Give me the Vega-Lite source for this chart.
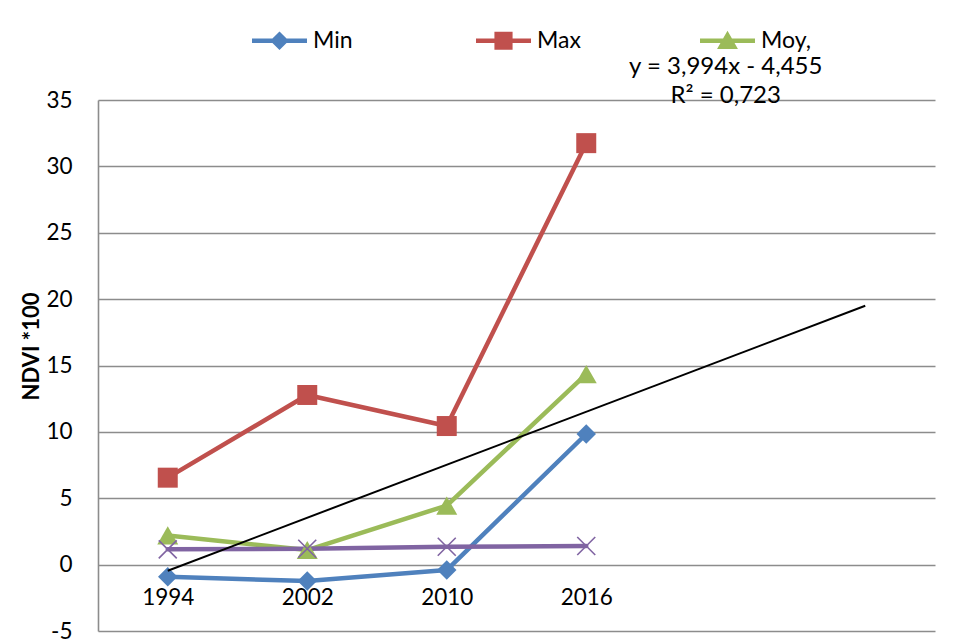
{
  "$schema": "https://vega.github.io/schema/vega-lite/v6.json",
  "width": 837,
  "height": 531,
  "autosize": {"type": "none"},
  "padding": {"left": 98, "top": 100, "right": 33, "bottom": 11},
  "background": "white",
  "config": {"view": {"stroke": null}, "font": "Lato"},
  "datasets": {
    "ndvi": [
      {"year": "1994", "series": "Min", "v": -0.91},
      {"year": "2002", "series": "Min", "v": -1.24},
      {"year": "2010", "series": "Min", "v": -0.41},
      {"year": "2016", "series": "Min", "v": 9.84},
      {"year": "1994", "series": "Max", "v": 6.55},
      {"year": "2002", "series": "Max", "v": 12.78},
      {"year": "2010", "series": "Max", "v": 10.44},
      {"year": "2016", "series": "Max", "v": 31.75},
      {"year": "1994", "series": "Moy", "v": 2.2},
      {"year": "2002", "series": "Moy", "v": 1.1},
      {"year": "2010", "series": "Moy", "v": 4.45},
      {"year": "2016", "series": "Moy", "v": 14.35},
      {"year": "1994", "series": "Série4", "v": 1.15},
      {"year": "2002", "series": "Série4", "v": 1.2},
      {"year": "2010", "series": "Série4", "v": 1.35},
      {"year": "2016", "series": "Série4", "v": 1.4}
    ],
    "trend": [
      {"year": "1994", "v": -0.46},
      {"year": "  ", "v": 19.5}
    ],
    "eqn": [
      {"year": " ", "label": "y = 3,994x - 4,455\nR² = 0,723"}
    ]
  },
  "data": {"name": "ndvi"},
  "layer": [
    {
      "mark": {"type": "line", "strokeWidth": 4.5, "strokeJoin": "round", "strokeCap": "round"},
      "encoding": {
        "x": {
          "field": "year",
          "type": "nominal",
          "sort": null,
          "scale": {"type": "point", "domain": ["1994", "2002", "2010", "2016", " ", "  "], "padding": 0.5},
          "axis": {
            "title": null,
            "orient": "bottom",
            "offset": -66.4,
            "domain": false,
            "ticks": false,
            "grid": false,
            "labelAngle": 0,
            "labelPadding": 22,
            "labelFont": "Lato",
            "labelFontSize": 22.5,
            "labelColor": "black"
          }
        },
        "y": {
          "field": "v",
          "type": "quantitative",
          "scale": {"domain": [-5, 35], "nice": false, "zero": false},
          "axis": {
            "title": "NDVI *100",
            "values": [-5, 0, 5, 10, 15, 20, 25, 30, 35],
            "labelExpr": "toString(datum.value)",
            "grid": true,
            "gridColor": "#8c8c8c",
            "gridWidth": 1.6,
            "domain": true,
            "domainColor": "#8c8c8c",
            "domainWidth": 1.6,
            "ticks": false,
            "labelPadding": 26,
            "labelFont": "Lato",
            "labelFontSize": 22.5,
            "labelColor": "black",
            "titleFont": "Lato",
            "titleFontSize": 22,
            "titleFontWeight": "bold",
            "titleColor": "black",
            "titleAngle": -90,
            "titleAlign": "center",
            "titleBaseline": "middle",
            "titleX": -67,
            "titleY": 246
          }
        },
        "stroke": {
          "field": "series",
          "type": "nominal",
          "scale": {"domain": ["Min", "Max", "Moy", "Série4"], "range": ["#4F81BD", "#C0504D", "#9BBB59", "#8064A2"]},
          "legend": null
        }
      }
    },
    {
      "transform": [{"filter": {"field": "series", "equal": "Min"}}],
      "mark": {"type": "point", "shape": "diamond", "filled": true, "opacity": 1, "size": 380, "color": "#4F81BD"},
      "encoding": {"x": {"field": "year", "type": "nominal", "sort": null}, "y": {"field": "v", "type": "quantitative"}}
    },
    {
      "transform": [{"filter": {"field": "series", "equal": "Max"}}],
      "mark": {"type": "point", "shape": "square", "filled": true, "opacity": 1, "size": 400, "color": "#C0504D"},
      "encoding": {"x": {"field": "year", "type": "nominal", "sort": null}, "y": {"field": "v", "type": "quantitative"}}
    },
    {
      "transform": [{"filter": {"field": "series", "equal": "Moy"}}],
      "mark": {"type": "point", "shape": "triangle-up", "filled": true, "opacity": 1, "size": 441, "color": "#9BBB59"},
      "encoding": {"x": {"field": "year", "type": "nominal", "sort": null}, "y": {"field": "v", "type": "quantitative"}}
    },
    {
      "transform": [{"filter": {"field": "series", "equal": "Série4"}}],
      "mark": {"type": "point", "shape": "M-1,-1L1,1M-1,1L1,-1", "filled": false, "opacity": 1, "size": 324, "strokeWidth": 1.6, "color": "#8064A2"},
      "encoding": {"x": {"field": "year", "type": "nominal", "sort": null}, "y": {"field": "v", "type": "quantitative"}}
    },
    {
      "data": {"name": "trend"},
      "mark": {"type": "line", "color": "black", "strokeWidth": 2},
      "encoding": {"x": {"field": "year", "type": "nominal", "sort": null}, "y": {"field": "v", "type": "quantitative"}}
    },
    {
      "data": {"name": "eqn"},
      "mark": {"type": "text", "font": "Lato", "fontSize": 24, "color": "black", "align": "center", "baseline": "middle", "lineBreak": "\n", "lineHeight": 29},
      "encoding": {
        "x": {"field": "year", "type": "nominal", "sort": null},
        "y": {"datum": 37.45, "type": "quantitative"},
        "text": {"field": "label", "type": "nominal"}
      }
    },
    {
      "data": {"values": []},
      "mark": {"type": "point", "filled": true, "opacity": 1},
      "encoding": {
        "color": {
          "field": "series",
          "type": "nominal",
          "scale": {"domain": ["Min", "Max", "Moy"], "range": ["#4F81BD", "#C0504D", "#9BBB59"]},
          "legend": {
            "orient": "none",
            "legendX": 154,
            "legendY": -87,
            "direction": "horizontal",
            "title": null,
            "padding": 0,
            "symbolSize": 3025,
            "symbolStrokeWidth": 0,
            "symbolOpacity": 1,
            "labelFont": "Lato",
            "labelFontSize": 23,
            "labelColor": "black",
            "labelOffset": 6,
            "columnPadding": 113,
            "gridAlign": "all",
            "labelExpr": "datum.label == 'Moy' ? 'Moy,' : datum.label"
          }
        },
        "shape": {
          "field": "series",
          "type": "nominal",
          "scale": {
            "domain": ["Min", "Max", "Moy"],
            "range": [
              "M-1,-0.082H1V0.082H-1ZM0,-0.34L0.34,0L0,0.34L-0.34,0Z",
              "M-1,-0.082H1V0.082H-1ZM-0.33,-0.33H0.33V0.33H-0.33Z",
              "M-1,-0.082H1V0.082H-1ZM0,-0.36L0.38,0.3L-0.38,0.3Z"
            ]
          },
          "legend": {
            "orient": "none",
            "legendX": 154,
            "legendY": -87,
            "direction": "horizontal",
            "title": null,
            "padding": 0,
            "symbolSize": 3025,
            "symbolStrokeWidth": 0,
            "symbolOpacity": 1,
            "labelFont": "Lato",
            "labelFontSize": 23,
            "labelColor": "black",
            "labelOffset": 6,
            "columnPadding": 113,
            "gridAlign": "all",
            "labelExpr": "datum.label == 'Moy' ? 'Moy,' : datum.label"
          }
        }
      }
    }
  ]
}
